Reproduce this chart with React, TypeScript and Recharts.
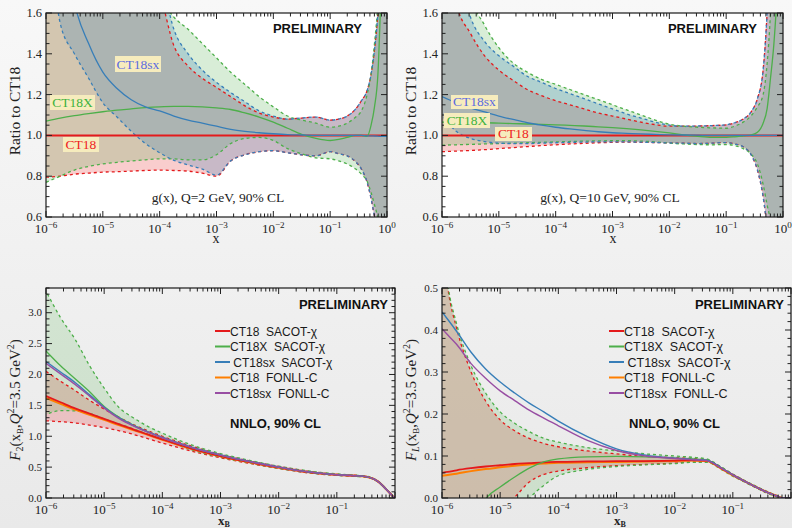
import React from 'react';
import { ComposedChart, Area, Line, XAxis, YAxis } from 'recharts';

const RED = '#e41a1c';
const GREEN = '#4daf4a';
const BLUE = '#377eb8';
const ORANGE = '#ff7f00';
const PURPLE = '#984ea3';
const SERIF = '"Liberation Serif", "Times New Roman", serif';
const SANS = '"Liberation Sans", Arial, sans-serif';

// sampling points of the gluon ratio plots, as log10(x)
const gluonLogX = [-6, -5.75, -5.5, -5.25, -5, -4.75, -4.5, -4.25, -4, -3.75, -3.5, -3.25, -3, -2.75, -2.5, -2.25, -2, -1.75, -1.5, -1.25, -1, -0.85, -0.7, -0.55, -0.45, -0.35, -0.28, -0.22, -0.16, -0.1, -0.05, 0];

// g(x), Q = 2 GeV, ratio to CT18
const q2Ct18 = [1, 1, 1, 1, 1, 1, 1, 1, 1, 1, 1, 1, 1, 1, 1, 1, 1, 1, 1, 1, 1, 1, 1, 1, 1, 1, 1, 1, 1, 1, 1, 1];
const q2Ct18x = [1.07, 1.085, 1.097, 1.107, 1.116, 1.124, 1.13, 1.136, 1.14, 1.142, 1.142, 1.14, 1.135, 1.127, 1.11, 1.09, 1.065, 1.035, 1.005, 0.985, 0.975, 0.98, 0.99, 1.0, 1.0, 0.995, 1.05, 1.14, 1.3, 1.75, 2.2, 2.6];
const q2Ct18sx = [2.5, 2.1, 1.65, 1.45, 1.31, 1.23, 1.175, 1.14, 1.12, 1.095, 1.075, 1.06, 1.045, 1.03, 1.02, 1.013, 1.008, 1.004, 1.002, 1.0, 1.0, 1.0, 1.0, 1.0, 1.0, 0.998, 0.998, 0.997, 0.996, 0.995, 0.995, 0.995];
const q2Ct18Hi = [2.6, 2.45, 2.3, 2.2, 2.1, 2.0, 1.95, 1.85, 1.7, 1.44, 1.34, 1.28, 1.235, 1.19, 1.145, 1.11, 1.09, 1.08, 1.085, 1.09, 1.075, 1.08, 1.095, 1.13, 1.17, 1.22, 1.3, 1.42, 1.6, 1.9, 2.3, 2.8];
const q2Ct18Lo = [0.795, 0.8, 0.81, 0.815, 0.82, 0.822, 0.825, 0.828, 0.83, 0.828, 0.825, 0.815, 0.8, 0.875, 0.905, 0.92, 0.925, 0.915, 0.905, 0.9, 0.92, 0.91, 0.9, 0.87, 0.835, 0.77, 0.69, 0.6, 0.5, 0.4, 0.3, 0.2];
const q2XHi = [2.6, 2.45, 2.3, 2.2, 2.1, 2.0, 1.95, 1.8, 1.68, 1.58, 1.52, 1.45, 1.38, 1.31, 1.25, 1.19, 1.14, 1.095, 1.075, 1.06, 1.04, 1.045, 1.06, 1.09, 1.12, 1.2, 1.3, 1.45, 1.65, 2.0, 2.4, 2.8];
const q2XLo = [0.77, 0.8, 0.83, 0.848, 0.86, 0.868, 0.875, 0.88, 0.885, 0.885, 0.88, 0.88, 0.905, 0.96, 0.985, 0.99, 0.975, 0.935, 0.91, 0.89, 0.885, 0.875, 0.86, 0.835, 0.81, 0.775, 0.72, 0.66, 0.59, 0.45, 0.3, 0.2];
const q2SxHi = [2.7, 2.55, 2.4, 2.3, 2.2, 2.1, 2.0, 1.92, 1.8, 1.52, 1.4, 1.32, 1.26, 1.21, 1.165, 1.12, 1.095, 1.08, 1.085, 1.09, 1.075, 1.08, 1.095, 1.13, 1.17, 1.22, 1.3, 1.42, 1.6, 1.9, 2.3, 2.8];
const q2SxLo = [2.2, 1.55, 1.4, 1.28, 1.16, 1.09, 1.02, 0.96, 0.915, 0.878, 0.855, 0.835, 0.805, 0.875, 0.905, 0.92, 0.925, 0.915, 0.905, 0.9, 0.92, 0.91, 0.9, 0.87, 0.835, 0.77, 0.69, 0.6, 0.5, 0.4, 0.3, 0.2];

// g(x), Q = 10 GeV, ratio to CT18
const q10Ct18 = [1, 1, 1, 1, 1, 1, 1, 1, 1, 1, 1, 1, 1, 1, 1, 1, 1, 1, 1, 1, 1, 1, 1, 1, 1, 1, 1, 1, 1, 1, 1, 1];
const q10Ct18x = [1.065, 1.064, 1.063, 1.062, 1.06, 1.058, 1.056, 1.054, 1.052, 1.049, 1.046, 1.042, 1.038, 1.033, 1.027, 1.02, 1.012, 1.003, 0.995, 0.99, 0.99, 0.993, 0.998, 1.003, 1.015, 1.06, 1.13, 1.28, 1.45, 1.72, 2.1, 2.5];
const q10Ct18sx = [1.19, 1.16, 1.135, 1.115, 1.095, 1.078, 1.062, 1.05, 1.04, 1.032, 1.025, 1.018, 1.013, 1.01, 1.007, 1.005, 1.003, 1.002, 1.001, 1.0, 1.0, 1.0, 1.0, 1.0, 1.0, 1.0, 1.0, 1.0, 1.0, 1.0, 1.0, 1.0];
const q10Ct18Hi = [2.3, 1.65, 1.5, 1.39, 1.32, 1.27, 1.225, 1.195, 1.17, 1.15, 1.13, 1.11, 1.095, 1.08, 1.065, 1.053, 1.045, 1.045, 1.046, 1.048, 1.052, 1.062, 1.08, 1.12, 1.18, 1.32, 1.6, 2.0, 2.4, 2.8, 3.0, 3.2];
const q10Ct18Lo = [0.92, 0.923, 0.926, 0.93, 0.935, 0.94, 0.945, 0.95, 0.954, 0.958, 0.961, 0.964, 0.966, 0.967, 0.966, 0.965, 0.963, 0.962, 0.96, 0.962, 0.965, 0.958, 0.944, 0.9, 0.83, 0.7, 0.55, 0.4, 0.3, 0.25, 0.2, 0.1];
const q10XHi = [2.8, 2.2, 1.7, 1.54, 1.43, 1.355, 1.31, 1.275, 1.25, 1.225, 1.2, 1.175, 1.15, 1.125, 1.1, 1.075, 1.055, 1.045, 1.04, 1.037, 1.035, 1.045, 1.065, 1.1, 1.14, 1.2, 1.35, 1.6, 2.0, 2.4, 2.8, 3.0];
const q10XLo = [0.952, 0.954, 0.956, 0.958, 0.96, 0.962, 0.964, 0.966, 0.968, 0.97, 0.972, 0.973, 0.974, 0.974, 0.972, 0.968, 0.962, 0.958, 0.955, 0.954, 0.955, 0.95, 0.935, 0.905, 0.86, 0.76, 0.66, 0.58, 0.45, 0.35, 0.25, 0.15];
const q10SxHi = [2.5, 1.85, 1.58, 1.46, 1.39, 1.34, 1.29, 1.26, 1.23, 1.205, 1.18, 1.155, 1.13, 1.105, 1.085, 1.065, 1.05, 1.045, 1.046, 1.048, 1.052, 1.062, 1.08, 1.12, 1.18, 1.32, 1.6, 2.0, 2.4, 2.8, 3.0, 3.2];
const q10SxLo = [1.1, 1.02, 0.985, 0.97, 0.962, 0.96, 0.96, 0.962, 0.964, 0.966, 0.967, 0.968, 0.968, 0.968, 0.967, 0.965, 0.963, 0.962, 0.96, 0.962, 0.965, 0.958, 0.944, 0.9, 0.83, 0.7, 0.55, 0.4, 0.3, 0.25, 0.2, 0.1];

// F2(xB, Q^2 = 3.5 GeV^2)
const f2LogX = [-6, -5.75, -5.5, -5.25, -5, -4.75, -4.5, -4.25, -4, -3.5, -3, -2.5, -2, -1.5, -1, -0.7, -0.5, -0.35, -0.25, -0.15, -0.08, -0.03, 0];
const f2Ct18 = [1.65, 1.55, 1.45, 1.365, 1.28, 1.195, 1.11, 1.03, 0.95, 0.8, 0.68, 0.58, 0.495, 0.42, 0.375, 0.36, 0.345, 0.3, 0.235, 0.14, 0.07, 0.02, 0];
const f2Ct18Fonll = [1.62, 1.525, 1.43, 1.345, 1.265, 1.18, 1.1, 1.022, 0.944, 0.796, 0.677, 0.578, 0.494, 0.42, 0.375, 0.36, 0.345, 0.3, 0.235, 0.14, 0.07, 0.02, 0];
const f2Ct18x = [2.38, 2.14, 1.93, 1.72, 1.48, 1.31, 1.18, 1.07, 0.98, 0.82, 0.695, 0.59, 0.5, 0.423, 0.377, 0.361, 0.346, 0.3, 0.235, 0.14, 0.07, 0.02, 0];
const f2Ct18sx = [2.21, 2.04, 1.87, 1.67, 1.47, 1.3, 1.175, 1.07, 0.98, 0.822, 0.697, 0.592, 0.502, 0.424, 0.378, 0.362, 0.347, 0.301, 0.236, 0.14, 0.07, 0.02, 0];
const f2Ct18sxFonll = [2.18, 2.01, 1.84, 1.65, 1.455, 1.29, 1.168, 1.065, 0.976, 0.82, 0.695, 0.59, 0.5, 0.423, 0.377, 0.361, 0.346, 0.3, 0.235, 0.14, 0.07, 0.02, 0];
const f2Ct18Hi = [2.05, 1.89, 1.74, 1.58, 1.44, 1.31, 1.19, 1.09, 1.0, 0.84, 0.705, 0.6, 0.51, 0.435, 0.385, 0.368, 0.352, 0.305, 0.24, 0.143, 0.072, 0.02, 0];
const f2Ct18Lo = [1.25, 1.235, 1.215, 1.18, 1.14, 1.09, 1.03, 0.96, 0.89, 0.76, 0.65, 0.56, 0.478, 0.408, 0.367, 0.352, 0.338, 0.295, 0.23, 0.137, 0.068, 0.019, 0];
const f2XHi = [3.35, 2.92, 2.57, 2.14, 1.78, 1.47, 1.3, 1.16, 1.05, 0.86, 0.72, 0.61, 0.515, 0.44, 0.39, 0.37, 0.354, 0.307, 0.242, 0.145, 0.073, 0.02, 0];
const f2XLo = [1.35, 1.415, 1.41, 1.37, 1.28, 1.2, 1.12, 1.03, 0.95, 0.78, 0.66, 0.565, 0.48, 0.41, 0.366, 0.35, 0.336, 0.293, 0.228, 0.135, 0.067, 0.019, 0];

// FL(xB, Q^2 = 3.5 GeV^2)
const flLogX = [-6, -5.9, -5.75, -5.5, -5.25, -5, -4.75, -4.5, -4.25, -4, -3.5, -3, -2.5, -2, -1.7, -1.45, -1.2, -1, -0.8, -0.6, -0.4, -0.25, -0.15, 0];
const flCt18 = [0.06, 0.062, 0.066, 0.071, 0.075, 0.078, 0.081, 0.083, 0.085, 0.086, 0.087, 0.088, 0.088, 0.089, 0.09, 0.089, 0.071, 0.055, 0.04, 0.026, 0.013, 0.005, 0, 0];
const flCt18Fonll = [0.053, 0.055, 0.058, 0.064, 0.069, 0.073, 0.077, 0.08, 0.082, 0.084, 0.085, 0.086, 0.087, 0.088, 0.089, 0.088, 0.07, 0.054, 0.04, 0.026, 0.013, 0.005, 0, 0];
const flCt18x = [-0.3, -0.25, -0.17, -0.07, -0.002, 0.026, 0.05, 0.071, 0.086, 0.093, 0.098, 0.099, 0.098, 0.095, 0.093, 0.09, 0.072, 0.055, 0.04, 0.026, 0.013, 0.005, 0, 0];
const flCt18sx = [0.443, 0.425, 0.397, 0.347, 0.307, 0.276, 0.25, 0.226, 0.205, 0.183, 0.146, 0.117, 0.102, 0.095, 0.092, 0.09, 0.072, 0.055, 0.04, 0.026, 0.013, 0.005, 0, 0];
const flCt18sxFonll = [0.403, 0.388, 0.366, 0.32, 0.285, 0.255, 0.232, 0.209, 0.19, 0.172, 0.137, 0.113, 0.1, 0.094, 0.091, 0.089, 0.071, 0.055, 0.04, 0.026, 0.013, 0.005, 0, 0];
const flCt18Hi = [0.62, 0.5, 0.405, 0.3, 0.231, 0.186, 0.16, 0.142, 0.13, 0.122, 0.112, 0.105, 0.099, 0.096, 0.094, 0.091, 0.073, 0.056, 0.041, 0.027, 0.014, 0.006, 0.001, 0];
const flCt18Lo = [-0.3, -0.25, -0.2, -0.13, -0.07, -0.025, 0.002, 0.038, 0.056, 0.064, 0.072, 0.077, 0.08, 0.083, 0.086, 0.086, 0.069, 0.053, 0.039, 0.025, 0.012, 0.004, 0, 0];
const flXHi = [0.64, 0.51, 0.415, 0.315, 0.25, 0.205, 0.178, 0.158, 0.142, 0.133, 0.12, 0.112, 0.105, 0.1, 0.097, 0.093, 0.074, 0.057, 0.042, 0.028, 0.015, 0.006, 0.001, 0];
const flXLo = [-0.4, -0.35, -0.3, -0.22, -0.15, -0.09, -0.045, -0.001, 0.03, 0.053, 0.068, 0.075, 0.079, 0.082, 0.085, 0.085, 0.068, 0.052, 0.038, 0.024, 0.011, 0.003, 0, 0];

const legendNames = ['CT18  SACOT-\u03c7', 'CT18X  SACOT-\u03c7', ' CT18sx  SACOT-\u03c7', 'CT18  FONLL-C', 'CT18sx  FONLL-C'];
const legendColors = [RED, GREEN, BLUE, ORANGE, PURPLE];

// log-axis ticks: 1..9 x 10^d
const LOG_TICKS: number[] = [];
for (let d = -6; d < 0; d++) for (let m = 1; m <= 9; m++) LOG_TICKS.push(m * Math.pow(10, d));
LOG_TICKS.push(1);

const range = (from: number, to: number, step: number) => {
  const out: number[] = [];
  const n = Math.round((to - from) / step);
  for (let i = 0; i <= n; i++) out.push(+(from + i * step).toFixed(4));
  return out;
};

function makeRows(logX: number[], cols: Record<string, number[]>) {
  return logX.map((lx, i) => {
    const row: any = { xv: Math.pow(10, lx) };
    Object.keys(cols).forEach((k) => (row[k] = cols[k][i]));
    return row;
  });
}

const q2Rows = makeRows(gluonLogX, { ct18: q2Ct18, ct18x: q2Ct18x, ct18sx: q2Ct18sx, rLo: q2Ct18Lo, rHi: q2Ct18Hi, gLo: q2XLo, gHi: q2XHi, bLo: q2SxLo, bHi: q2SxHi });
const q10Rows = makeRows(gluonLogX, { ct18: q10Ct18, ct18x: q10Ct18x, ct18sx: q10Ct18sx, rLo: q10Ct18Lo, rHi: q10Ct18Hi, gLo: q10XLo, gHi: q10XHi, bLo: q10SxLo, bHi: q10SxHi });
const f2Rows = makeRows(f2LogX, { ct18: f2Ct18, ct18x: f2Ct18x, ct18sx: f2Ct18sx, ct18f: f2Ct18Fonll, ct18sxf: f2Ct18sxFonll, rLo: f2Ct18Lo, rHi: f2Ct18Hi, gLo: f2XLo, gHi: f2XHi });
const flRows = makeRows(flLogX, { ct18: flCt18, ct18x: flCt18x, ct18sx: flCt18sx, ct18f: flCt18Fonll, ct18sxf: flCt18sxFonll, rLo: flCt18Lo, rHi: flCt18Hi, gLo: flXLo, gHi: flXHi });

type Geom = { w: number; h: number; l: number; r: number; t: number; b: number };
type Band = { lo: string; hi: string; color: string; opacity: number; offset: number };
type Curve = { key: string; color: string; width: number };

const TOP: Geom = { w: 396, h: 250, l: 46, r: 387, t: 13, b: 217 };
const BOTTOM: Geom = { w: 396, h: 268, l: 46, r: 395, t: 28, b: 238 };

const gluonBands: Band[] = [
  { lo: 'rLo', hi: 'rHi', color: RED, opacity: 0.22, offset: 0 },
  { lo: 'gLo', hi: 'gHi', color: GREEN, opacity: 0.22, offset: 0 },
  { lo: 'bLo', hi: 'bHi', color: BLUE, opacity: 0.25, offset: 3 },
];
const gluonCurves: Curve[] = [
  { key: 'ct18', color: RED, width: 2 },
  { key: 'ct18x', color: GREEN, width: 1.3 },
  { key: 'ct18sx', color: BLUE, width: 1.3 },
];
const sfBands: Band[] = [
  { lo: 'rLo', hi: 'rHi', color: RED, opacity: 0.2, offset: 0 },
  { lo: 'gLo', hi: 'gHi', color: GREEN, opacity: 0.18, offset: 3 },
];
const sfCurves: Curve[] = [
  { key: 'ct18f', color: ORANGE, width: 2 },
  { key: 'ct18', color: RED, width: 1.8 },
  { key: 'ct18x', color: GREEN, width: 1.3 },
  { key: 'ct18sx', color: BLUE, width: 1.4 },
  { key: 'ct18sxf', color: PURPLE, width: 1.4 },
];

const makeXTick = (g: Geom, labeled: number[], fontSize: number) => (p: any) => {
  const v = p.payload.value;
  const x = p.x;
  const lg = Math.log10(v);
  const e = Math.round(lg);
  const major = Math.abs(lg - e) < 1e-6;
  const len = major ? 6 : 3.5;
  return (
    <g>
      <line x1={x} x2={x} y1={g.b} y2={g.b - len} stroke="#222" strokeWidth={1} />
      <line x1={x} x2={x} y1={g.t} y2={g.t + len} stroke="#222" strokeWidth={1} />
      {major && labeled.includes(e) && (
        <text x={x} y={g.b + 15.5} textAnchor="middle" fontFamily={SERIF} fontSize={fontSize} fill="#222">
          10<tspan dy={-5} fontSize={fontSize * 0.7}>{e === 0 ? '0' : '\u2212' + -e}</tspan>
        </text>
      )}
    </g>
  );
};

const makeYTick = (g: Geom, majorStep: number, fontSize: number) => (p: any) => {
  const v = p.payload.value;
  const y = p.y;
  const major = Math.abs(v / majorStep - Math.round(v / majorStep)) < 1e-6;
  const len = major ? 6 : 3.5;
  return (
    <g>
      <line x1={g.l} x2={g.l + len} y1={y} y2={y} stroke="#222" strokeWidth={1} />
      <line x1={g.r} x2={g.r - len} y1={y} y2={y} stroke="#222" strokeWidth={1} />
      {major && (
        <text x={g.l - 4} y={y + fontSize * 0.32} textAnchor="end" fontFamily={SERIF} fontSize={fontSize} fill="#222">
          {v.toFixed(1)}
        </text>
      )}
    </g>
  );
};

interface PanelProps {
  left: number;
  top: number;
  g: Geom;
  rows: any[];
  yDomain: [number, number];
  yTicks: number[];
  majorStep: number;
  xLabels: number[];
  xFont: number;
  yFont: number;
  bands: Band[];
  curves: Curve[];
}

function Panel({ left, top, g, rows, yDomain, yTicks, majorStep, xLabels, xFont, yFont, bands, curves }: PanelProps) {
  return (
    <div style={{ position: 'absolute', left, top }}>
      <ComposedChart width={g.w} height={g.h} data={rows} margin={{ top: g.t, right: g.w - g.r, bottom: 0, left: 0 }}>
        <XAxis
          dataKey="xv"
          type="number"
          scale="log"
          domain={[1e-6, 1]}
          allowDataOverflow
          ticks={LOG_TICKS}
          interval={0}
          height={g.h - g.b}
          axisLine={false}
          tickLine={false}
          tickSize={0}
          tick={makeXTick(g, xLabels, xFont)}
        />
        <YAxis
          type="number"
          domain={yDomain}
          allowDataOverflow
          ticks={yTicks}
          interval={0}
          width={g.l}
          axisLine={false}
          tickLine={false}
          tickSize={0}
          tick={makeYTick(g, majorStep, yFont)}
        />
        {bands.map((b) => (
          <Area
            key={b.lo + '-fill'}
            dataKey={(d: any) => [d[b.lo], d[b.hi]]}
            type="monotone"
            stroke="none"
            fill={b.color}
            fillOpacity={b.opacity}
            dot={false}
            activeDot={false}
            legendType="none"
            isAnimationActive={false}
          />
        ))}
        {bands.map((b) =>
          [b.lo, b.hi].map((k) => (
            <Line
              key={k}
              dataKey={k}
              type="monotone"
              stroke={b.color}
              strokeWidth={1.3}
              strokeDasharray="3 3"
              strokeDashoffset={b.offset}
              dot={false}
              activeDot={false}
              isAnimationActive={false}
            />
          ))
        )}
        {curves.map((c) => (
          <Line
            key={c.key}
            dataKey={c.key}
            type="monotone"
            stroke={c.color}
            strokeWidth={c.width}
            dot={false}
            activeDot={false}
            isAnimationActive={false}
          />
        ))}
      </ComposedChart>
    </div>
  );
}

const LabelBox = ({ x, y, w, h, color, text, base }: any) => (
  <g>
    <rect x={x} y={y} width={w} height={h} fill="#f6ecbd" />
    <text x={x + w / 2} y={base} textAnchor="middle" fontFamily={SERIF} fontSize={13.5} fill={color}>
      {text}
    </text>
  </g>
);

const Frame = ({ x, y, w, h }: any) => <rect x={x} y={y} width={w} height={h} fill="none" stroke="#1a1a1a" strokeWidth={1.2} />;

function Legend2({ x, y, size }: any) {
  return (
    <g>
      {legendNames.map((n, i) => (
        <g key={n}>
          <line x1={x} x2={x + 15} y1={y + i * 15.5} y2={y + i * 15.5} stroke={legendColors[i]} strokeWidth={2} />
          <text x={x + 15} y={y + i * 15.5 + 4.5} fontFamily={SANS} fontSize={size} fill="#1a1a1a" style={{ whiteSpace: 'pre' }}>
            {n}
          </text>
        </g>
      ))}
    </g>
  );
}

function Annotations() {
  return (
    <svg width={792} height={528} style={{ position: 'absolute', left: 0, top: 0, pointerEvents: 'none' }}>
      <Frame x={46} y={13} w={341} h={204} />
      <Frame x={442} y={13} w={341} h={204} />
      <Frame x={46} y={288} w={349} h={210} />
      <Frame x={442} y={288} w={349} h={210} />

      <text x={362} y={32.5} textAnchor="end" fontFamily={SANS} fontWeight="bold" fontSize={13} fill="#111">PRELIMINARY</text>
      <text x={757} y={32.5} textAnchor="end" fontFamily={SANS} fontWeight="bold" fontSize={13} fill="#111">PRELIMINARY</text>
      <text x={388} y={309} textAnchor="end" fontFamily={SANS} fontWeight="bold" fontSize={13} fill="#111">PRELIMINARY</text>
      <text x={784} y={309} textAnchor="end" fontFamily={SANS} fontWeight="bold" fontSize={13} fill="#111">PRELIMINARY</text>

      <text x={218} y={202} textAnchor="middle" fontFamily={SERIF} fontSize={13.5} fill="#222" style={{ whiteSpace: 'pre' }}>g(x), Q=2 GeV, 90% CL</text>
      <text x={610} y={202} textAnchor="middle" fontFamily={SERIF} fontSize={13.5} fill="#222" style={{ whiteSpace: 'pre' }}>g(x), Q=10 GeV, 90% CL</text>

      <LabelBox x={115} y={56} w={46} h={16} color="#5b6be0" text="CT18sx" base={69} />
      <LabelBox x={50} y={95} w={45} h={15} color="#3db23d" text="CT18X" base={107} />
      <LabelBox x={63} y={137} w={36} h={15} color="#ee2222" text="CT18" base={149} />
      <LabelBox x={451} y={95} w={47} h={14} color="#5b6be0" text="CT18sx" base={106} />
      <LabelBox x={444} y={113} w={46} h={15} color="#3db23d" text="CT18X" base={125} />
      <LabelBox x={495} y={127} w={37} h={14} color="#ee2222" text="CT18" base={138} />

      <text transform="translate(20,111) rotate(-90)" textAnchor="middle" fontFamily={SERIF} fontSize={15.5} fill="#222">Ratio to CT18</text>
      <text transform="translate(416,111) rotate(-90)" textAnchor="middle" fontFamily={SERIF} fontSize={15.5} fill="#222">Ratio to CT18</text>
      <text x={216} y={243} textAnchor="middle" fontFamily={SERIF} fontSize={14} fill="#222">x</text>
      <text x={613} y={243} textAnchor="middle" fontFamily={SERIF} fontSize={14} fill="#222">x</text>

      <Legend2 x={215} y={331} size={12} />
      <Legend2 x={609} y={331} size={12.5} />
      <text x={230} y={428} fontFamily={SANS} fontWeight="bold" fontSize={13} fill="#111">NNLO, 90% CL</text>
      <text x={629} y={428} fontFamily={SANS} fontWeight="bold" fontSize={13} fill="#111">NNLO, 90% CL</text>

      <text transform="translate(20,400) rotate(-90)" textAnchor="middle" fontFamily={SERIF} fontSize={15} fill="#222">
        <tspan fontStyle="italic">F</tspan>
        <tspan dy={3} fontSize={10}>2</tspan>
        <tspan dy={-3}>(x</tspan>
        <tspan dy={3} fontSize={9}>B</tspan>
        <tspan dy={-3}>,</tspan>
        <tspan fontStyle="italic">Q</tspan>
        <tspan dy={-6} fontSize={10}>2</tspan>
        <tspan dy={6}>=3.5 GeV</tspan>
        <tspan dy={-6} fontSize={10}>2</tspan>
        <tspan dy={6}>)</tspan>
      </text>
      <text transform="translate(416,400) rotate(-90)" textAnchor="middle" fontFamily={SERIF} fontSize={15} fill="#222">
        <tspan fontStyle="italic">F</tspan>
        <tspan dy={3} fontSize={10} fontStyle="italic">L</tspan>
        <tspan dy={-3}>(x</tspan>
        <tspan dy={3} fontSize={9}>B</tspan>
        <tspan dy={-3}>,</tspan>
        <tspan fontStyle="italic">Q</tspan>
        <tspan dy={-6} fontSize={10}>2</tspan>
        <tspan dy={6}>=3.5 GeV</tspan>
        <tspan dy={-6} fontSize={10}>2</tspan>
        <tspan dy={6}>)</tspan>
      </text>
      <text x={218} y={525} fontFamily={SERIF} fontWeight="bold" fontSize={13} fill="#222">
        x<tspan dy={2} fontSize={8}>B</tspan>
      </text>
      <text x={614} y={525} fontFamily={SERIF} fontWeight="bold" fontSize={13} fill="#222">
        x<tspan dy={2} fontSize={8}>B</tspan>
      </text>
    </svg>
  );
}

export default function App() {
  return (
    <div
      style={{
        position: 'absolute',
        left: 0,
        top: 0,
        width: 792,
        height: 528,
        overflow: 'hidden',
        background: 'linear-gradient(#f8f8f8, #e9e9e9)',
      }}
    >
      <div style={{ position: 'absolute', left: 46, top: 13, width: 341, height: 204, background: '#fff' }} />
      <div style={{ position: 'absolute', left: 442, top: 13, width: 341, height: 204, background: '#fff' }} />
      <Panel left={0} top={0} g={TOP} rows={q2Rows} yDomain={[0.6, 1.6]} yTicks={range(0.6, 1.6, 0.05)} majorStep={0.2}
        xLabels={[-6, -5, -4, -3, -2, -1, 0]} xFont={13} yFont={12.5} bands={gluonBands} curves={gluonCurves} />
      <Panel left={396} top={0} g={TOP} rows={q10Rows} yDomain={[0.6, 1.6]} yTicks={range(0.6, 1.6, 0.05)} majorStep={0.2}
        xLabels={[-6, -5, -4, -3, -2, -1, 0]} xFont={13} yFont={12.5} bands={gluonBands} curves={gluonCurves} />
      <Panel left={0} top={260} g={BOTTOM} rows={f2Rows} yDomain={[0, 3.4]} yTicks={range(0, 3.4, 0.1)} majorStep={0.5}
        xLabels={[-6, -5, -4, -3, -2, -1]} xFont={13} yFont={11} bands={sfBands} curves={sfCurves} />
      <Panel left={396} top={260} g={BOTTOM} rows={flRows} yDomain={[0, 0.5]} yTicks={range(0, 0.5, 0.02)} majorStep={0.1}
        xLabels={[-6, -5, -4, -3, -2, -1]} xFont={13} yFont={11} bands={sfBands} curves={sfCurves} />
      <Annotations />
    </div>
  );
}
